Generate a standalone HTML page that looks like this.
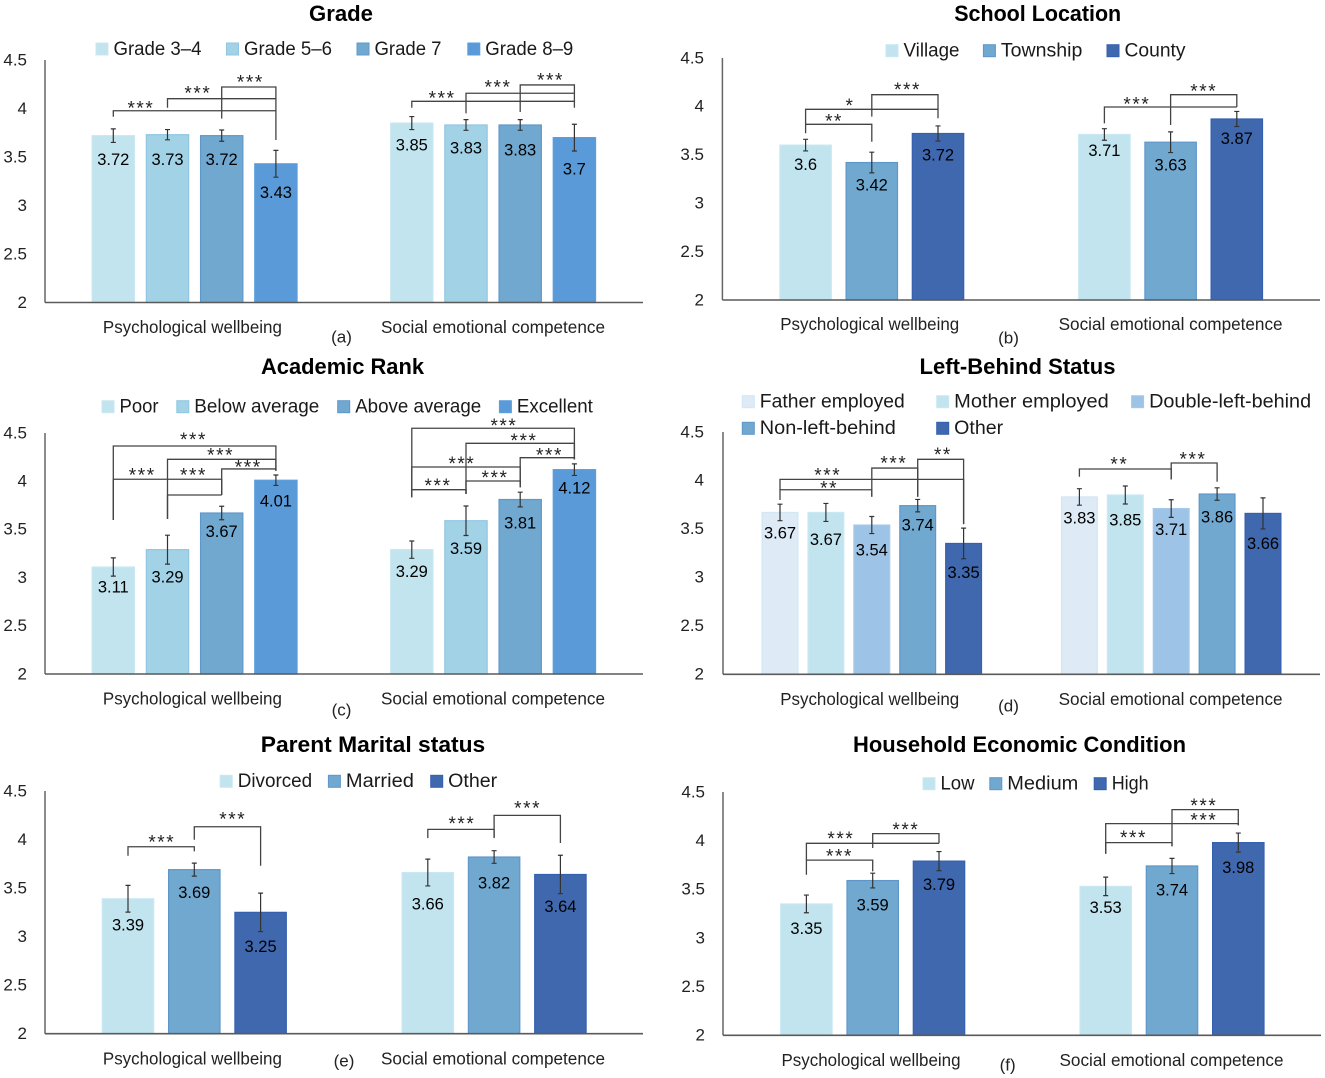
<!DOCTYPE html>
<html lang="en">
<head>
<meta charset="utf-8">
<title>Wellbeing and competence by demographic group</title>
<style>
html,body{margin:0;padding:0;background:#fff;}
svg{display:block;font-family:"Liberation Sans",sans-serif;}
</style>
</head>
<body>
<svg id="figure" width="1325" height="1078" viewBox="0 0 1325 1078" xmlns="http://www.w3.org/2000/svg"></svg>
<script>
/* ---------- shared axis data ---------- */
const tickValues = [2, 2.5, 3, 3.5, 4, 4.5];
const tickLabels = ['2', '2.5', '3', '3.5', '4', '4.5'];
const groupNames = ['Psychological wellbeing', 'Social emotional competence'];

/* ---------- panel (a) ---------- */
const gradeSeries = ['Grade 3–4', 'Grade 5–6', 'Grade 7', 'Grade 8–9'];
const gradeValues = [[3.72, 3.73, 3.72, 3.43], [3.85, 3.83, 3.83, 3.7]];
const gradeErrors = [[0.07, 0.053, 0.058, 0.138], [0.067, 0.055, 0.055, 0.138]];
const gradeBrackets = [
  [{a:0,b:3,lv:3.977,da:3.915,db:3.675,t:'***',sx:0.51,sv:4.029},
   {a:1,b:3,lv:4.101,da:4.008,db:3.977,t:'***',sx:1.56,sv:4.18},
   {a:2,b:3,lv:4.222,da:3.895,db:4.101,t:'***',sx:2.53,sv:4.294}],
  [{a:0,b:3,lv:4.074,da:4.008,db:4.008,t:'***',sx:0.56,sv:4.132},
   {a:1,b:3,lv:4.157,da:3.95,db:4.074,t:'***',sx:1.59,sv:4.242},
   {a:2,b:3,lv:4.243,da:3.964,db:4.157,t:'***',sx:2.56,sv:4.314}]
];

/* ---------- panel (b) ---------- */
const locationSeries = ['Village', 'Township', 'County'];
const locationValues = [[3.6, 3.42, 3.72], [3.71, 3.63, 3.87]];
const locationErrors = [[0.06, 0.107, 0.078], [0.06, 0.107, 0.078]];
const locationBrackets = [
  [{a:0,b:2,lv:3.97,da:3.815,db:3.877,t:'*',sx:0.67,sv:4.032},
   {a:0,b:1,lv:3.815,da:3.722,db:3.635,t:'**',sx:0.43,sv:3.87},
   {a:1,b:2,lv:4.121,da:3.894,db:3.97,t:'***',sx:1.54,sv:4.197}],
  [{a:0,b:2,lv:3.994,da:3.825,db:3.994,t:'***',sx:0.49,sv:4.045},
   {a:1,b:2,lv:4.121,da:3.808,db:3.994,t:'***',sx:1.5,sv:4.183}]
];

/* ---------- panel (c) ---------- */
const rankSeries = ['Poor', 'Below average', 'Above average', 'Excellent'];
const rankValues = [[3.11, 3.29, 3.67, 4.01], [3.29, 3.59, 3.81, 4.12]];
const rankErrors = [[0.095, 0.15, 0.07, 0.054], [0.09, 0.153, 0.076, 0.06]];
const rankBrackets = [
  [{a:0,b:3,lv:4.365,da:3.598,db:4.109,t:'***',sx:1.48,sv:4.455},
   {a:1,b:3,lv:4.227,da:3.608,db:4.109,t:'***',sx:1.98,sv:4.293},
   {a:2,b:3,lv:4.127,da:3.857,db:4.109,t:'***',sx:2.49,sv:4.168},
   {a:0,b:2,lv:4.02,da:3.598,db:3.857,t:'***',sx:0.535,sv:4.085},
   {a:1,b:2,lv:3.857,da:3.608,db:3.857,t:'***',sx:1.48,sv:4.085}],
  [{a:0,b:3,lv:4.549,da:3.833,db:4.227,t:'***',sx:1.7,sv:4.6},
   {a:1,b:3,lv:4.393,da:3.867,db:4.227,t:'***',sx:2.07,sv:4.445},
   {a:2,b:3,lv:4.244,da:3.937,db:4.227,t:'***',sx:2.54,sv:4.293},
   {a:0,b:2,lv:4.147,da:3.833,db:3.937,t:'***',sx:0.925,sv:4.206},
   {a:1,b:2,lv:4.002,da:3.867,db:3.937,t:'***',sx:1.535,sv:4.061},
   {a:0,b:1,lv:3.912,da:3.833,db:3.867,t:'***',sx:0.483,sv:3.978}]
];

/* ---------- panel (d) ---------- */
const leftBehindSeries = ['Father employed', 'Mother employed', 'Double-left-behind', 'Non-left-behind', 'Other'];
const leftBehindValues = [[3.67, 3.67, 3.54, 3.74, 3.35], [3.83, 3.85, 3.71, 3.86, 3.66]];
const leftBehindErrors = [[0.085, 0.093, 0.088, 0.064, 0.158], [0.085, 0.093, 0.091, 0.064, 0.16]];
const leftBehindBrackets = [
  [{a:0,b:4,lv:4.011,da:3.904,db:3.55,t:'***',sx:1.04,sv:4.08},
   {a:0,b:2,lv:3.904,da:3.798,db:3.832,t:'**',sx:1.07,sv:3.945},
   {a:2,b:3,lv:4.128,da:3.832,db:3.832,t:'***',sx:2.48,sv:4.2},
   {a:3,b:4,lv:4.218,da:3.832,db:3.55,t:'**',sx:3.55,sv:4.29}],
  [{a:0,b:2,lv:4.118,da:4.038,db:4.011,t:'**',sx:0.87,sv:4.19},
   {a:2,b:3,lv:4.18,da:4.011,db:3.987,t:'***',sx:2.475,sv:4.242}]
];

/* ---------- panel (e) ---------- */
const maritalSeries = ['Divorced', 'Married', 'Other'];
const maritalValues = [[3.39, 3.69, 3.25], [3.66, 3.82, 3.64]];
const maritalErrors = [[0.138, 0.067, 0.198], [0.138, 0.065, 0.198]];
const maritalBrackets = [
  [{a:0,b:1,lv:3.926,da:3.833,db:3.878,t:'***',sx:0.51,sv:3.998},
   {a:1,b:2,lv:4.132,da:3.998,db:3.73,t:'***',sx:1.58,sv:4.232}],
  [{a:0,b:1,lv:4.105,da:4.015,db:4.022,t:'***',sx:0.515,sv:4.187},
   {a:1,b:2,lv:4.249,da:4.015,db:3.964,t:'***',sx:1.505,sv:4.345}]
];

/* ---------- panel (f) ---------- */
const economicSeries = ['Low', 'Medium', 'High'];
const economicValues = [[3.35, 3.59, 3.79], [3.53, 3.74, 3.98]];
const economicErrors = [[0.091, 0.076, 0.098], [0.095, 0.078, 0.098]];
const economicBrackets = [
  [{a:0,b:2,lv:3.973,da:3.8,db:3.973,t:'***',sx:0.52,sv:4.045},
   {a:0,b:1,lv:3.8,da:3.65,db:3.685,t:'***',sx:0.5,sv:3.863},
   {a:1,b:2,lv:4.072,da:3.925,db:3.973,t:'***',sx:1.5,sv:4.137}],
  [{a:0,b:2,lv:4.175,da:3.866,db:4.158,t:'***',sx:1.48,sv:4.236},
   {a:0,b:1,lv:3.98,da:3.866,db:3.942,t:'***',sx:0.42,sv:4.055},
   {a:1,b:2,lv:4.319,da:3.942,db:4.158,t:'***',sx:1.48,sv:4.384}]
];

/* ---------- styles ---------- */
const PALE = ['#deeaf6', '#d2e6f4'];
const LIGHT = ['#c1e4ef', '#c9e8f2'];
const SKY = ['#a2d2e6', '#8fc6e2'];
const MID = ['#71a8d0', '#5f97cb'];
const BLUE = ['#5a9ad8', '#5a9fdc'];
const SOFT = ['#9dc3e6', '#a6c9ea'];
const DARK = ['#4068ae', '#3560b0'];

const panels = [
  {id:'grade', title:'Grade', titleX:341, titleY:14, titleW:64, note:'(a)', noteX:341.5, noteY:337,
   series:gradeSeries, values:gradeValues, errors:gradeErrors, brackets:gradeBrackets,
   colors:[LIGHT, SKY, MID, BLUE],
   x0:45, x1:643, top:60, base:302.5, tickX:27, starts:[113.3, 411.8], step:54.2, barW:43.5,
   catY:327, catX:[192.4, 493],
   drops:[[24.3, 25, 24.3, 29.3], [22.3, 23.3, 25.3, 32]],
   legend:[[96,49],[226.5,49],[357,49],[467.8,49]], legendW:[88,88,67,88]},
  {id:'school-location', title:'School Location', titleX:1037.7, titleY:14, titleW:167, note:'(b)', noteX:1008.5, noteY:338,
   series:locationSeries, values:locationValues, errors:locationErrors, brackets:locationBrackets,
   colors:[LIGHT, MID, DARK],
   x0:722.4, x1:1320, top:58, base:300, tickX:704, starts:[805.6, 1104.4], step:66.2, barW:52.6,
   catY:324, catX:[869.7, 1170.6],
   drops:[[20, 23, 22], [16.3, 23.3, 19.7]],
   legend:[[886,50.7],[983.4,50.7],[1107,50.7]], legendW:[56,81.5,61]},
  {id:'academic-rank', title:'Academic Rank', titleX:342.5, titleY:367, titleW:163, note:'(c)', noteX:341.5, noteY:710,
   series:rankSeries, values:rankValues, errors:rankErrors, brackets:rankBrackets,
   colors:[LIGHT, SKY, MID, BLUE],
   x0:45, x1:643, top:433, base:674, tickX:27, starts:[113.3, 411.8], step:54.2, barW:43.5,
   catY:698.7, catX:[192.4, 493],
   drops:[[20.3, 27.7, 19, 21.3], [22, 28.3, 24, 19]],
   legend:[[102,406.7],[176.8,406.7],[337.7,406.7],[499.4,406.7]], legendW:[39,125,126,76]},
  {id:'left-behind-status', title:'Left-Behind Status', titleX:1017.5, titleY:367, titleW:196, note:'(d)', noteX:1008.5, noteY:706,
   series:leftBehindSeries, values:leftBehindValues, errors:leftBehindErrors, brackets:leftBehindBrackets,
   colors:[PALE, LIGHT, SOFT, MID, DARK],
   x0:723, x1:1320, top:432, base:674.3, tickX:704, starts:[780, 1079.4], step:45.9, barW:37,
   catY:699, catX:[869.7, 1170.6],
   drops:[[21, 27.3, 25.3, 19.7, 29.3], [21.3, 25.3, 21.3, 23.3, 30.3]],
   legend:[[742.3,401.7],[936.7,401.7],[1131.6,401.7],[742.3,428.3],[936.7,428.3]], legendW:[145,154.5,162,136,49]},
  {id:'parent-marital-status', title:'Parent Marital status', titleX:373, titleY:745, titleW:224.5, note:'(e)', noteX:344, noteY:1061,
   series:maritalSeries, values:maritalValues, errors:maritalErrors, brackets:maritalBrackets,
   colors:[LIGHT, MID, DARK],
   x0:45, x1:643, top:791, base:1033.7, tickX:27, starts:[128, 427.8], step:66.3, barW:52.6,
   catY:1058.7, catX:[192.4, 493],
   drops:[[26.7, 23.3, 34.7], [31.7, 26.3, 32.3]],
   legend:[[220.2,781.3],[328.4,781.3],[430.7,781.3]], legendW:[74.5,68,49]},
  {id:'household-economic-condition', title:'Household Economic Condition', titleX:1019.5, titleY:745, titleW:333, note:'(f)', noteX:1007.6, noteY:1065,
   series:economicSeries, values:economicValues, errors:economicErrors, brackets:economicBrackets,
   colors:[LIGHT, MID, DARK],
   x0:723, x1:1321, top:792, base:1035.3, tickX:705, starts:[806.4, 1105.7], step:66.3, barW:52.6,
   catY:1060, catX:[871, 1171.5],
   drops:[[25, 25, 24], [21.7, 24.3, 25.3]],
   legend:[[923,783.7],[989.8,783.7],[1094.2,783.7]], legendW:[34,71,37]}
];

/* ---------- drawing ---------- */
const NS = 'http://www.w3.org/2000/svg';
const figure = document.getElementById('figure');

function mk(parent, tag, attrs) {
  const node = document.createElementNS(NS, tag);
  for (const key in attrs) node.setAttribute(key, attrs[key]);
  parent.appendChild(node);
  return node;
}

function mkText(parent, x, centerY, str, size, opts) {
  const o = opts || {};
  const attrs = {
    x: x,
    y: centerY + size * 0.31,
    'font-size': size,
    fill: o.fill || '#111',
    'text-anchor': o.anchor || 'middle'
  };
  if (o.weight) attrs['font-weight'] = o.weight;
  if (o.width) { attrs.textLength = o.width; attrs.lengthAdjust = 'spacingAndGlyphs'; }
  const node = mk(parent, 'text', attrs);
  node.textContent = str;
  return node;
}

function drawPanel(p) {
  const yScale = v => p.base - (v - 2) * (p.base - p.top) / 2.5;
  const xScale = (g, i) => p.starts[g] + i * p.step;

  const panel = mk(figure, 'g', {});
  
  

  const title = mkText(panel, p.titleX, p.titleY, p.title, 22.5, {weight: 'bold', width: p.titleW, fill: '#000'});
  
  

  p.series.forEach((name, s) => {
    const swatch = mk(panel, 'rect', {
      x: p.legend[s][0], y: p.legend[s][1] - 6, width: 12, height: 12,
      fill: p.colors[s][0], stroke: p.colors[s][1], 'stroke-width': 1
    });
    
    
    const label = mkText(panel, p.legend[s][0] + 17.5, p.legend[s][1], name, 19, {anchor: 'start', fill: '#1a1a1a', width: p.legendW[s]});
    
    
  });

  tickValues.forEach((tv, t) => {
    const tick = mkText(panel, p.tickX, yScale(tv), tickLabels[t], 17, {anchor: 'end', fill: '#222'});
    
    
  });

  p.values.forEach((groupValues, g) => {
    groupValues.forEach((v, i) => {
      const cx = xScale(g, i);
      const bar = mk(panel, 'rect', {
        x: cx - p.barW / 2 + 0.6, y: yScale(v), width: p.barW - 1.2, height: p.base - yScale(v),
        fill: p.colors[i][0], stroke: p.colors[i][1], 'stroke-width': 1.2
      });
      
      
    });
  });

  const yAxis = mk(panel, 'line', {x1: p.x0, x2: p.x0, y1: p.top, y2: p.base, stroke: '#666', 'stroke-width': 1.5});
  
  
  const xAxis = mk(panel, 'line', {x1: p.x0, x2: p.x1, y1: p.base, y2: p.base, stroke: '#5a5a5a', 'stroke-width': 1.6});
  
  

  p.values.forEach((groupValues, g) => {
    groupValues.forEach((v, i) => {
      const cx = xScale(g, i);
      const e = p.errors[g][i];
      const hi = yScale(v + e);
      const lo = yScale(v - e);
      const err = mk(panel, 'path', {
        d: 'M' + cx + ' ' + hi + 'V' + lo + 'M' + (cx - 2.5) + ' ' + hi + 'h5M' + (cx - 2.5) + ' ' + lo + 'h5',
        fill: 'none', stroke: '#333', 'stroke-width': 1.2
      });
      
      
      const val = mkText(panel, cx, yScale(v) + p.drops[g][i], String(v), 16.5, {fill: '#000'});
      
      
    });

    p.brackets[g].forEach((b, k) => {
      const xa = xScale(g, b.a);
      const xb = xScale(g, b.b);
      const line = mk(panel, 'path', {
        d: 'M' + xa + ' ' + yScale(b.da) + 'V' + yScale(b.lv) + 'H' + xb + 'V' + yScale(b.db),
        fill: 'none', stroke: '#444', 'stroke-width': 1.3
      });
      
      
      const star = mk(panel, 'text', {
        x: xScale(g, b.sx), y: yScale(b.sv) + 8.6, 'font-size': 19, fill: '#222',
        'text-anchor': 'middle', 'letter-spacing': 1.6
      });
      star.textContent = b.t;
      
      
    });

    const cat = mkText(panel, p.catX[g], p.catY + 0.6, groupNames[g], 17.2, {width: g === 0 ? 179 : 224, fill: '#222'});
    
    
  });

  const note = mkText(panel, p.noteX, p.noteY, p.note, 17, {fill: '#222'});
  
  
}

panels.forEach(drawPanel);
</script>
</body>
</html>
